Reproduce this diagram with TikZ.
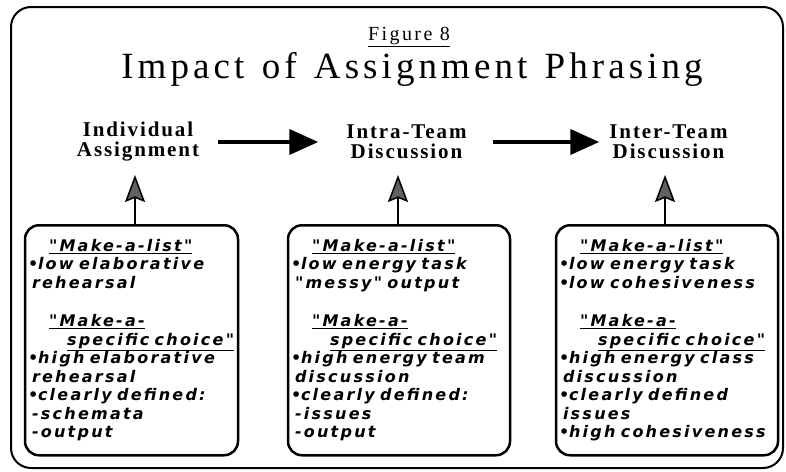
\documentclass[tikz,border=0pt]{standalone}
\usepackage{fontspec}
\setmainfont{Liberation Serif}
\newfontfamily\figfamily{Liberation Serif}[LetterSpace=12]
\newfontfamily\titlefamily{Liberation Serif}[LetterSpace=11,WordSpace=1.3]
\newfontfamily\stagefamily{Liberation Serif}[LetterSpace=9]
\newfontfamily\listfamily{DejaVu Sans}[LetterSpace=14]
\usepackage{tikz}
\usetikzlibrary{arrows.meta,positioning}
\newcommand\itm{\makebox[10pt][l]{•}}
\newcommand\cont{\hspace*{4pt}}
\newcommand\hd[1]{\underline{#1}}
\tikzset{
  frame/.style={draw=black, line width=2pt, rounded corners=20pt},
  figlabel/.style={font=\figfamily\fontsize{20}{24}\selectfont, inner sep=0pt, anchor=base},
  headline/.style={font=\titlefamily\fontsize{37}{40}\selectfont, inner sep=0pt, anchor=base},
  stage/.style={font=\stagefamily\bfseries\fontsize{21}{20}\selectfont, align=center, inner sep=0pt},
  flow/.style={line width=4pt, -{Triangle[length=29pt,width=25pt]}},
  feed/.style={line width=2.6pt, -{Stealth[length=27pt,width=20pt,inset=4pt,line width=1.5pt,fill=black!62]}},
  listbox/.style={draw, line width=2.5pt, rounded corners=14pt, anchor=north,
    minimum height=230pt, inner xsep=3pt, align=left,
    font=\listfamily\bfseries\itshape\fontsize{16}{18.5}\selectfont},
}
\begin{document}
\begin{tikzpicture}[x=1pt,y=-1pt]
  \useasboundingbox (0,0) rectangle (786,471);
  \draw[frame] (11,7) rectangle (783,468);

  % title
  \node[figlabel] (fig) at (409,40) {\hd{Figure 8}};
  \node[headline] (title) at (412,78) {Impact of Assignment Phrasing};

  % stages
  \node[stage] (indiv) at (138,142) {Individual\\Assignment};
  \node[stage] (intra) at (406.5,142) {Intra-Team\\Discussion};
  \node[stage] (inter) at (668.5,142) {Inter-Team\\Discussion};
  \draw[flow, shorten <=19pt, shorten >=28pt] (indiv) -- (intra);
  \draw[flow, shorten <=26pt, shorten >=10pt] (intra) -- (inter);

  % what each phrasing gives
  \node[listbox, text width=207pt] (list1) at (131.5,224) {%
    \hspace*{21pt}\hd{"Make-a-list"}\\
    \itm low elaborative\\
    \cont rehearsal\\[20pt]
    \hspace*{21pt}\hd{"Make-a-}\\
    \hspace*{39pt}\hd{specific choice"}\\
    \itm high elaborative\\
    \cont rehearsal\\
    \itm clearly defined:\\
    \cont -schemata\\
    \cont -output};
  \node[listbox, text width=216pt] (list2) at (399,224) {%
    \hspace*{21pt}\hd{"Make-a-list"}\\
    \itm low energy task\\
    \cont "messy" output\\[20pt]
    \hspace*{21pt}\hd{"Make-a-}\\
    \hspace*{39pt}\hd{specific choice"}\\
    \itm high energy team\\
    \cont discussion\\
    \itm clearly defined:\\
    \cont -issues\\
    \cont -output};
  \node[listbox, text width=216pt] (list3) at (667,224) {%
    \hspace*{21pt}\hd{"Make-a-list"}\\
    \itm low energy task\\
    \itm low cohesiveness\\[20pt]
    \hspace*{21pt}\hd{"Make-a-}\\
    \hspace*{39pt}\hd{specific choice"}\\
    \itm high energy class\\
    \cont discussion\\
    \itm clearly defined\\
    \cont issues\\
    \itm high cohesiveness};

  % feedback arrows
  \coordinate (tip1) at (135,175);
  \coordinate (tip2) at (398,175);
  \coordinate (tip3) at (665,175);
  \draw[feed] (list1.north -| tip1) -- (tip1);
  \draw[feed] (list2.north -| tip2) -- (tip2);
  \draw[feed] (list3.north -| tip3) -- (tip3);
\end{tikzpicture}
\end{document}
